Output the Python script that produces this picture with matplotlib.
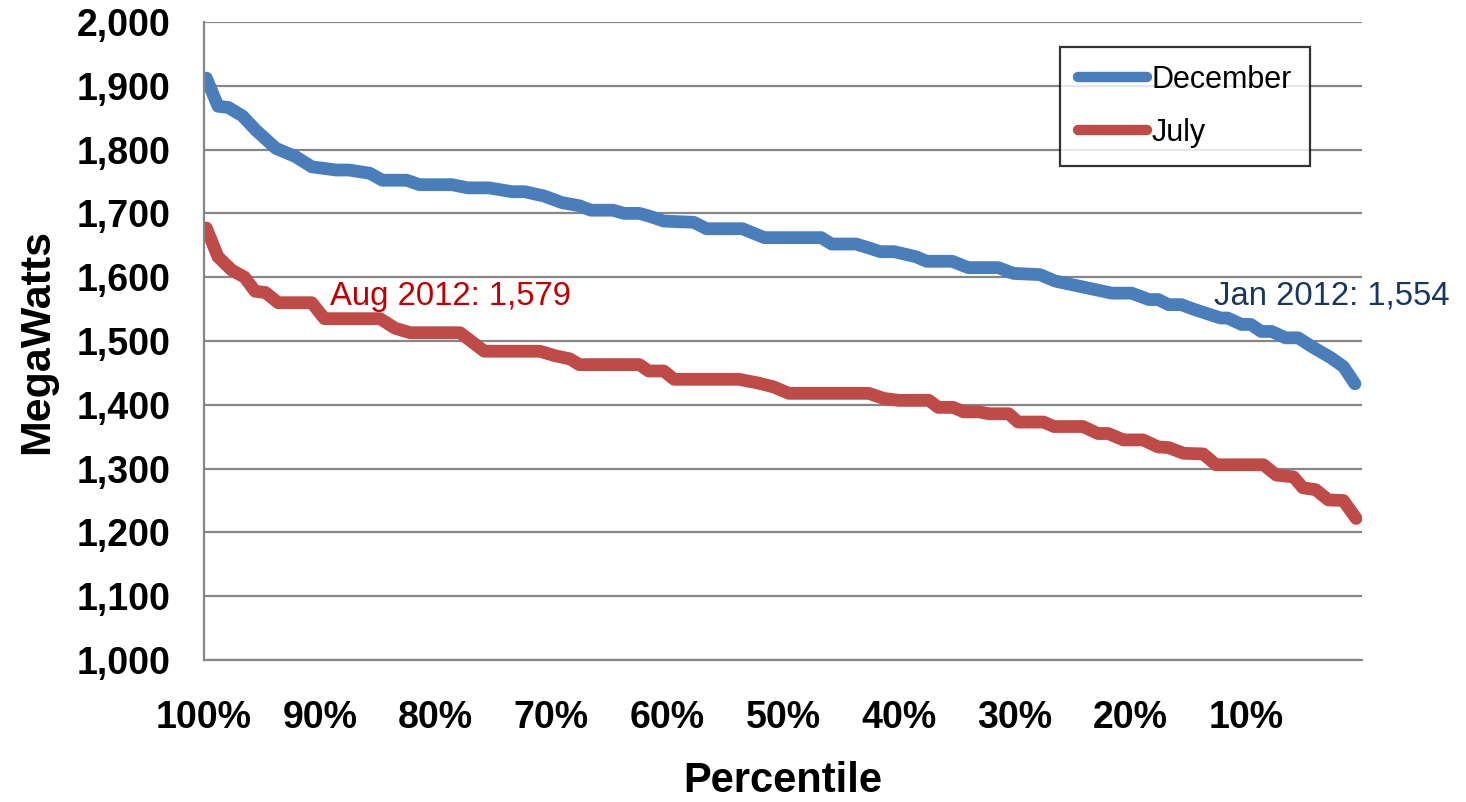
#!/usr/bin/env python3
"""Load duration curves for December and July, by percentile."""

import matplotlib
matplotlib.use("Agg")
import matplotlib.pyplot as plt
from matplotlib.ticker import FuncFormatter

plt.rcParams["font.family"] = ["Liberation Sans", "DejaVu Sans"]

# percentile of hours (x) and load in MW (y)
DEC_PCT = [99.8, 98.8, 97.9, 96.7, 95.5, 93.8, 92.1, 90.7, 88.6, 87.5, 85.7, 84.6,
           82.5, 81.4, 78.6, 77.2, 75.4, 73.4, 72.3, 70.6, 69.1, 67.6, 66.6, 64.7,
           63.7, 62.4, 61.6, 60.3, 57.7, 56.6, 53.5, 52.7, 51.6, 46.7, 45.8, 43.7,
           42.6, 41.6, 40.4, 38.5, 37.6, 35.4, 34.0, 31.4, 30.1, 27.8, 26.5, 21.6,
           19.9, 18.4, 17.6, 16.7, 15.6, 14.4, 12.2, 11.6, 10.4, 9.6, 8.7, 7.8,
           6.6, 5.5, 4.4, 2.7, 1.6, 0.6]
DEC_MW = [1912, 1868, 1866, 1853, 1830, 1802, 1789, 1773, 1768, 1768, 1763, 1752,
          1752, 1745, 1745, 1740, 1740, 1734, 1734, 1727, 1717, 1712, 1705, 1705,
          1700, 1700, 1696, 1688, 1686, 1676, 1676, 1670, 1662, 1662, 1652, 1652,
          1646, 1640, 1640, 1632, 1625, 1625, 1615, 1615, 1606, 1604, 1594, 1575,
          1575, 1565, 1565, 1557, 1557, 1549, 1536, 1536, 1526, 1526, 1515, 1515,
          1505, 1505, 1492, 1474, 1460, 1433]

JUL_PCT = [99.8, 98.8, 97.6, 96.5, 95.6, 94.7, 93.6, 90.7, 89.6, 84.8, 83.5, 82.2,
           77.9, 77.1, 75.8, 71.0, 69.7, 68.4, 67.6, 62.4, 61.6, 60.3, 59.4, 53.8,
           52.1, 50.8, 49.5, 42.6, 41.3, 40.0, 37.4, 36.6, 35.3, 34.4, 33.1, 32.2,
           30.5, 29.7, 27.5, 26.6, 24.1, 22.8, 21.9, 20.6, 18.9, 17.6, 16.7, 15.4,
           13.7, 12.6, 8.5, 7.4, 5.9, 5.1, 4.0, 2.9, 1.6, 0.5]
JUL_MW = [1677, 1632, 1611, 1600, 1578, 1576, 1560, 1560, 1535, 1535, 1520, 1513,
          1513, 1502, 1484, 1484, 1477, 1472, 1463, 1463, 1453, 1453, 1440, 1440,
          1434, 1428, 1418, 1418, 1410, 1407, 1407, 1396, 1396, 1389, 1389, 1386,
          1386, 1373, 1373, 1366, 1366, 1355, 1355, 1345, 1345, 1334, 1333, 1324,
          1323, 1306, 1306, 1290, 1287, 1270, 1267, 1251, 1250, 1222]

X_TICKS = [100, 90, 80, 70, 60, 50, 40, 30, 20, 10]
Y_TICKS = list(range(1000, 2001, 100))

NOTES = [
    ("Aug 2012: 1,579", 89.1, 1570, "#C00000"),
    ("Jan 2012: 1,554", 12.8, 1570, "#17375E"),
]

BLUE = "#4A7EBB"
RED = "#BE4B48"
GRID = "#868686"


def main():
    fig = plt.figure(figsize=(14.66, 8.02), dpi=100)
    ax = fig.add_axes([0.1392, 0.177, 0.7898, 0.7956])

    ax.plot(DEC_PCT, DEC_MW, color=BLUE, linewidth=9.2,
            solid_capstyle="round", solid_joinstyle="round", label="December")
    ax.plot(JUL_PCT, JUL_MW, color=RED, linewidth=9.2,
            solid_capstyle="round", solid_joinstyle="round", label="July")

    for text, x, y, color in NOTES:
        ax.text(x, y, text, color=color, fontsize=23.7, ha="left", va="center")

    ax.set_xlim(100, 0)
    ax.set_ylim(1000, 2000)
    ax.set_xticks(X_TICKS)
    ax.set_xticklabels([f"{v}%" for v in X_TICKS])
    ax.set_yticks(Y_TICKS)
    ax.yaxis.set_major_formatter(FuncFormatter(lambda v, _: f"{v:,.0f}"))
    ax.tick_params(length=0, labelsize=27)
    ax.tick_params(axis="x", pad=29)
    ax.tick_params(axis="y", pad=24)
    for label in ax.get_xticklabels() + ax.get_yticklabels():
        label.set_fontweight("bold")

    ax.grid(axis="y", color=GRID, linewidth=1.6)
    ax.set_axisbelow(True)
    for side in ("top", "right"):
        ax.spines[side].set_visible(False)
    for side in ("left", "bottom"):
        ax.spines[side].set_color(GRID)
        ax.spines[side].set_linewidth(1.6)

    ax.set_xlabel("Percentile", fontsize=30, fontweight="bold", labelpad=18)
    ax.set_ylabel("MegaWatts", fontsize=31, fontweight="bold", labelpad=14)

    leg = ax.legend(loc="upper left", bbox_to_anchor=(0.739, 0.961),
                    fontsize=22, frameon=True, fancybox=False,
                    handlelength=2.25, handletextpad=0.15, labelspacing=0.75,
                    borderpad=0.6, borderaxespad=0)
    leg.get_frame().set_edgecolor("black")
    leg.get_frame().set_linewidth(1.6)
    for line in leg.get_lines():
        line.set_linewidth(7.5)

    fig.savefig("out.png", dpi=100)
    plt.close(fig)


if __name__ == "__main__":
    main()
